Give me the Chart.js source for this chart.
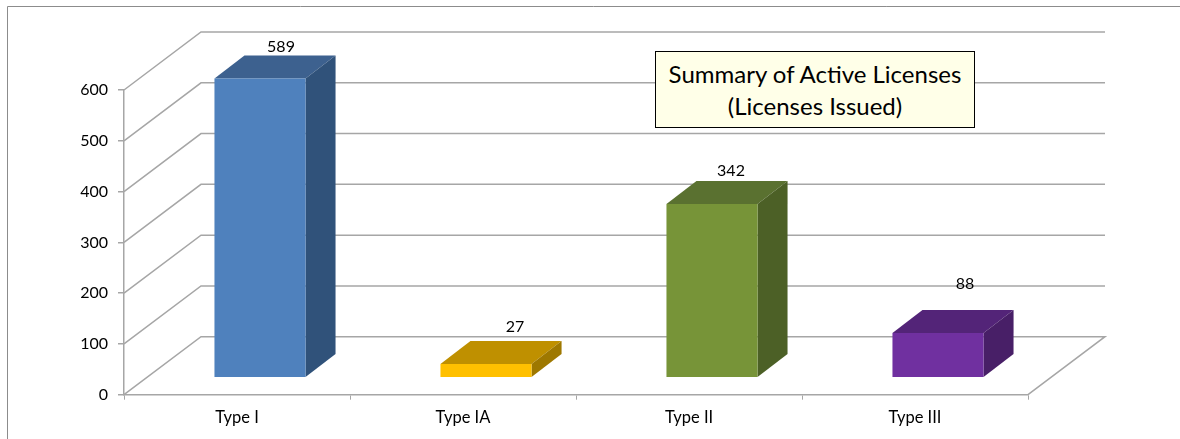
<!DOCTYPE html>
<html>
<head>
<meta charset="utf-8">
<title>Summary of Active Licenses</title>
<script src="https://cdn.jsdelivr.net/npm/chart.js@4"></script>
<style>
    html, body { margin: 0; padding: 0; background: #fff; overflow: hidden; }
    #wrap { position: relative; width: 1180px; height: 439px; }
    #titleBox {
        position: absolute; left: 655px; top: 51px; width: 318px; height: 75px;
        border: 1px solid #000; background: #ffffe8; color: #000;
        font: 24px/32px Lato, sans-serif; text-align: center;
        padding-top: 0; display: flex; flex-direction: column; justify-content: center;
    }
</style>
</head>
<body>
<div id="wrap">
    <canvas id="licenseChart" width="1180" height="439"></canvas>
    <div id="titleBox"><span>Summary of Active Licenses</span><span>(Licenses Issued)</span></div>
</div>
<script>
"use strict";

const categories = ["Type I", "Type IA", "Type II", "Type III"];
const licenses = [589, 27, 342, 88];
const yTicks = [0, 100, 200, 300, 400, 500, 600];

const frontColors = ["#4f81bd", "#ffc000", "#779438", "#7030a0"];
const topColors = ["#3d618f", "#bf9000", "#5a7130", "#532478"];
const sideColors = ["#30527a", "#9e7800", "#4c6026", "#481f67"];

const gridColor = "#a6a6a6";

// 3d look: how far the back wall sits from the axes, where the bars stand, how deep they are
const wall = { dx: 77, dy: -58 };
const barShift = { dx: 23, dy: -17 };
const barDepth = { dx: 30, dy: -23 };
// the value labels do not sit at a constant distance in the original
const labelShift = [[21, -32], [29, -37], [19, -33], [27, -49]];

function polygon(ctx, points, color) {
    ctx.fillStyle = color;
    ctx.beginPath();
    points.forEach((p, i) => i ? ctx.lineTo(p[0], p[1]) : ctx.moveTo(p[0], p[1]));
    ctx.closePath();
    ctx.fill();
}

const fakeThreeD = {
    id: "fakeThreeD",
    beforeDraw(chart) {
        // outer frame of the picture, only top and left are visible
        const ctx = chart.ctx;
        ctx.save();
        ctx.strokeStyle = "#8c8c8c";
        ctx.lineWidth = 1;
        ctx.beginPath();
        ctx.moveTo(7.5, 439);
        ctx.lineTo(7.5, 6.5);
        ctx.lineTo(1180, 6.5);
        ctx.stroke();
        ctx.restore();
    },
    beforeDatasetsDraw(chart) {
        const ctx = chart.ctx;
        const area = chart.chartArea;
        const y = chart.scales.y;

        // wall lines
        ctx.save();
        ctx.strokeStyle = gridColor;
        ctx.lineWidth = 1.5;
        yTicks.forEach(v => {
            const py = y.getPixelForValue(v);
            ctx.beginPath();
            ctx.moveTo(area.left, py);
            ctx.lineTo(area.left + wall.dx, py + wall.dy);
            ctx.lineTo(area.right + wall.dx, py + wall.dy);
            if (v === 0) ctx.lineTo(area.right, py);
            ctx.stroke();
        });
        ctx.restore();

        // side and top of the bars, the library's bars stay in this shifted context
        ctx.save();
        ctx.translate(barShift.dx, barShift.dy);
        chart.getDatasetMeta(0).data.forEach((bar, i) => {
            const l = bar.x - bar.width / 2;
            const r = bar.x + bar.width / 2;
            polygon(ctx, [[l, bar.y], [l + barDepth.dx, bar.y + barDepth.dy],
                [r + barDepth.dx, bar.y + barDepth.dy], [r, bar.y]], topColors[i]);
            polygon(ctx, [[r, bar.y], [r + barDepth.dx, bar.y + barDepth.dy],
                [r + barDepth.dx, bar.base + barDepth.dy], [r, bar.base]], sideColors[i]);
        });
    },
    afterDatasetsDraw(chart) {
        const ctx = chart.ctx;
        ctx.restore();

        ctx.save();
        ctx.fillStyle = "#000";
        ctx.font = "16px Lato, sans-serif";
        ctx.textAlign = "center";
        ctx.textBaseline = "middle";
        chart.getDatasetMeta(0).data.forEach((bar, i) => {
            ctx.fillText(String(licenses[i]),
                bar.x + barShift.dx + labelShift[i][0],
                bar.y + barShift.dy + labelShift[i][1]);
        });
        ctx.restore();
    }
};

new Chart(document.getElementById("licenseChart"), {
    type: "bar",
    data: {
        labels: categories,
        datasets: [{
            data: licenses,
            backgroundColor: frontColors,
            categoryPercentage: 1,
            barPercentage: 0.403,
            clip: false
        }]
    },
    options: {
        responsive: false,
        animation: false,
        events: [],
        layout: { padding: { left: 74, right: 152, top: 90, bottom: 4.3 } },
        plugins: { legend: { display: false }, tooltip: { enabled: false } },
        scales: {
            x: {
                afterFit: scale => { scale.height = 40; },
                border: { color: gridColor, width: 1.5 },
                grid: { drawOnChartArea: false, color: gridColor, tickLength: 5, lineWidth: 1 },
                ticks: { color: "#000", font: { family: "Lato", size: 16.5 }, padding: 8, maxRotation: 0 }
            },
            y: {
                min: 0,
                max: 600,
                afterFit: scale => { scale.width = 50; },
                border: { color: gridColor, width: 1.5 },
                grid: { drawOnChartArea: false, color: gridColor, tickLength: 6, lineWidth: 1.5 },
                ticks: { stepSize: 100, color: "#000", font: { family: "Lato", size: 16 }, padding: 10 }
            }
        }
    },
    plugins: [fakeThreeD]
});
</script>
</body>
</html>
